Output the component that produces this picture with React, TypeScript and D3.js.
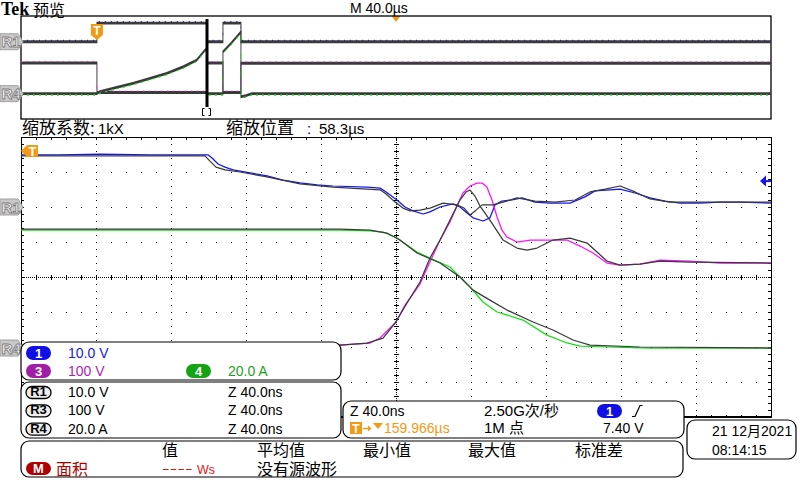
import React from "react";
import * as d3 from "d3";

type P = [number, number];

// ---------- zoomed window: time in ns (40 ns/div), values in V (ch1, ch3) and A (ch4)
const ch1Zoom: P[] = [
  [0, 14.9], [20.8, 14.9], [42.1, 15.1], [68.8, 14.9], [90.1, 14.9], [99.7, 14.9], [101.9, 14.0],
  [105.1, 12.3], [108.8, 11.4], [113.1, 10.6], [131.2, 8.9], [139.7, 7.7], [148.8, 6.9], [157.9, 6.3],
  [166.4, 6.0], [184.5, 5.7], [191.5, 5.4], [194.7, 4.3], [200.5, 2.0], [204.8, 0.0], [209.1, -1.1],
  [214.4, -2.0], [218.1, -1.4], [223.5, 0.0], [230.4, 0.9], [234.1, 0.0], [237.9, -1.7], [241.1, -3.1],
  [246.4, -4.0], [250.1, -3.1], [252.8, 0.6], [256.5, 1.7], [261.9, 2.0], [267.2, 2.6], [274.1, 1.4],
  [282.1, 1.1], [292.8, 1.1], [300.8, 2.9], [306.1, 4.6], [314.1, 4.9], [319.5, 5.1], [327.5, 4.0],
  [335.5, 2.6], [343.5, 1.7], [351.5, 1.1], [362.1, 1.1], [372.8, 1.4], [383.5, 1.4], [400, 1.1],
];
const ref1Zoom: P[] = [
  [0, 14.6], [42.1, 14.6], [90.1, 14.6], [98.1, 14.6], [100.8, 13.1], [104, 11.4], [108.8, 10.6],
  [116.8, 10.0], [131.2, 8.6], [148.8, 6.6], [166.4, 5.7], [184.5, 5.1], [191.5, 4.9], [194.7, 3.7],
  [199.5, 1.4], [203.7, -0.3], [207.5, -1.1], [212.8, -0.9], [218.1, -0.3], [225.1, 1.1], [232.5, 0.6],
  [236.3, -0.3], [239.5, -2.3], [242.7, -0.9], [245.9, 0.6], [251.7, 0.6], [257.1, 1.4], [264.5, 2.6],
  [274.1, 1.7], [284.8, 1.4], [295.5, 2.0], [303.5, 4.3], [311.5, 5.1], [319.5, 6.0], [327.5, 4.3],
  [335.5, 2.3], [346.1, 1.4], [362.1, 1.4], [400, 1.4],
];
const ch3Zoom: P[] = [
  [0, 8.6], [170.1, 8.6], [186.1, 14.3], [191.5, 28.6], [196.8, 57.1], [200, 74.3], [204.8, 122.9],
  [212.8, 182.9], [218.1, 245.7], [223.5, 308.6], [228.8, 360], [232.5, 405.7], [235.7, 442.9],
  [239.5, 462.9], [243.2, 471.4], [245.9, 471.4], [248.5, 460], [251.2, 422.9], [253.9, 374.3],
  [256.5, 337.1], [259.2, 317.1], [264.5, 302.9], [271.5, 308.6], [280.5, 308.6], [291.2, 308.6],
  [298.1, 291.4], [305.1, 271.4], [308.8, 257.1], [312.5, 242.9], [319.5, 237.1], [330.1, 240],
  [340.8, 251.4], [356.8, 248.6], [372.8, 242.9], [400, 242.9],
];
const ref3Zoom: P[] = [
  [0, 8.6], [170.1, 8.6], [184.5, 14.3], [193.1, 28.6], [199.5, 71.4], [205.9, 128.6], [212.8, 188.6],
  [218.1, 257.1], [223.5, 308.6], [228.8, 365.7], [234.1, 422.9], [237.3, 445.7], [239.5, 451.4],
  [242.1, 434.3], [244.8, 405.7], [250.1, 365.7], [257.1, 308.6], [264.5, 285.7], [269.9, 280],
  [275.2, 285.7], [283.7, 308.6], [292.8, 314.3], [301.9, 300], [307.2, 274.3], [312.5, 248.6],
  [319.5, 237.1], [330.1, 240], [340.8, 248.6], [356.8, 245.7], [400, 242.9],
];
const ch4Zoom: P[] = [
  [0, 67.4], [42.1, 67.4], [95, 67.4], [148.8, 67.4], [170.1, 67.4], [186.1, 66.9], [193.1, 66.3],
  [200.5, 62.9], [211.2, 54.9], [218.1, 51.4], [228.8, 46.3], [239.5, 34.9], [246.4, 26.3],
  [253.9, 20.6], [267.7, 16.0], [280.5, 7.4], [291.2, 2.9], [298.1, 1.1], [312.5, 0.6], [335.5, 0], [400, 0],
];
const ref4Zoom: P[] = [
  [0, 68], [170.1, 68], [186.1, 67.4], [195.2, 65.7], [202.1, 61.7], [211.2, 54.3], [223.5, 48.6],
  [234.1, 40.6], [241.1, 33.1], [250.1, 27.4], [259.2, 21.7], [273.1, 14.9], [283.7, 10.3],
  [294.4, 4.6], [303.5, 1.7], [330.1, 0.6], [400, 0],
];

// ---------- full record overview: time in µs (40 µs/div)
const ch1Overview: P[] = [
  [0, 0], [40.5, 0], [40.5, 14.5], [99.2, 14.5], [99.2, 0], [107.7, 0], [107.7, 14.5], [117.3, 14.5], [117.3, 0], [400, 0],
];
const ch3Overview: P[] = [
  [0, 238], [40.5, 238], [40.5, 8.6], [99.2, 8.6], [99.2, 238], [107.7, 238], [107.7, 8.6], [117.3, 8.6], [117.3, 236], [400, 236],
];
const ch4Overview: P[] = [
  [0, 0], [40.5, 0], [42.1, 3], [51, 9.8], [59.7, 16], [68.8, 23.8], [77.7, 31.5], [86.6, 41.8], [93.7, 52.2],
  [98.1, 67.7], [99.2, 69], [99.2, 0], [107.7, 0], [107.7, 65], [112, 78], [117.3, 96], [117.3, -4.8],
  [120, -3], [123, 0], [400, 0],
];

// channel order: ch1, ch3, ch4
const unitsPerDiv = [10, 100, 20];
const zeroDiv = [2.0, -2.03, -2.03];
const chColors = ["#1414f0", "#ff10ff", "#10e010"];

const chBadge = ["1", "3", "4"];
const chSetting = ["10.0 V", "100 V", "20.0 A"];
const refBadge = ["R1", "R3", "R4"];
const refSetting = ["10.0 V", "100 V", "20.0 A"];
const refZoomText = ["Z 40.0ns", "Z 40.0ns", "Z 40.0ns"];
const measHeaders = ["值", "平均值", "最小值", "最大值", "标准差"];

const LAT = "'Liberation Sans', Arial, 'Noto Sans CJK SC', sans-serif";
const CJK = "'Noto Sans CJK SC', 'Liberation Sans', sans-serif";
const ORANGE = "#f39a14";
const REFGRAY = "#3a3a3a";

const Pill = ({ x, y, w, h, fill, label, stroke }: any) => (
  <g>
    <rect x={x} y={y} width={w} height={h} rx={h / 2} fill={fill} stroke={stroke || "none"} strokeWidth={1.3} />
    <text x={x + w / 2} y={y + h - 2.5} textAnchor="middle" fontFamily={LAT} fontWeight="bold" fontSize={13}
      fill={stroke ? "#000" : "#fff"}>{label}</text>
  </g>
);

const Tag = ({ y, label }: { y: number; label: string }) => (
  <g>
    <path d={`M0,${y - 8}H18L23,${y}L18,${y + 8}H0Z`} fill="#c8c8c8" stroke="#a0a0a0" />
    <text x={1.5} y={y + 5.5} fontFamily={LAT} fontWeight="bold" fontSize={15} fill="#f6f6f6"
      stroke="#7c7c7c" strokeWidth={0.8}>{label}</text>
  </g>
);

export default function App() {
  const L = 21, R = 771, T = 137, B = 417;
  const xMain = d3.scaleLinear().domain([0, 400]).range([L, R]);
  const yMain = d3.scaleLinear().domain([-4, 4]).range([B, T]);
  const xOv = d3.scaleLinear().domain([0, 400]).range([L, R]);
  const yOv = d3.scaleLinear().domain([-4, 4]).range([119, 16]);
  const OVK = 3; // overview: thick horizontal strokes, thin vertical edges

  const mainLine = (pts: P[], ci: number) =>
    d3.line<P>().x((d) => xMain(d[0])).y((d) => yMain(d[1] / unitsPerDiv[ci] + zeroDiv[ci]))(pts) || "";
  const ovLine = (pts: P[], ci: number) =>
    d3.line<P>().x((d) => xOv(d[0])).y((d) => yOv(d[1] / unitsPerDiv[ci] + zeroDiv[ci]) / OVK)(pts) || "";

  // graticule
  let dots = "";
  for (let i = 1; i < 10; i++) {
    if (i === 5) continue;
    const x = Math.round(xMain(i * 40));
    for (let j = 1; j < 40; j++) {
      const y = Math.round(yMain(-4 + j * 0.2));
      dots += `M${x},${y}h1v1h-1z`;
    }
  }
  for (let k = -3; k <= 3; k++) {
    if (k === 0) continue;
    const y = Math.round(yMain(k));
    for (let i = 1; i < 50; i++) {
      const x = Math.round(xMain(i * 8));
      dots += `M${x},${y}h1v1h-1z`;
    }
  }
  const x0 = Math.round(xMain(200)), y0 = Math.round(yMain(0));
  let center = "";
  for (let x = L + 1; x < R; x += 2) center += `M${x},${y0}h1v1h-1z`;
  for (let y = T + 1; y < B; y += 2) center += `M${x0},${y}h1v1h-1z`;
  for (let i = 1; i < 50; i++) {
    const x = Math.round(xMain(i * 8));
    center += `M${x},${y0 - 2}h1v5h-1z`;
    center += `M${x},${T}h1v3h-1z`;
    center += `M${x},${B - 2}h1v3h-1z`;
  }
  for (let j = 1; j < 40; j++) {
    const y = Math.round(yMain(-4 + j * 0.2));
    center += `M${x0 - 2},${y}h5v1h-5z`;
    center += `M${L},${y}h3v1h-3z`;
    center += `M${R - 3},${y}h3v1h-3z`;
  }

  const trigX = xOv(40.5);
  const zoomX = xOv(99.2);
  const r1Main = yMain(zeroDiv[0]);
  const r4Main = yMain(zeroDiv[2]);
  const r1Ov = yOv(zeroDiv[0]);
  const r4Ov = yOv(zeroDiv[2]);
  const trigLevelY = yMain(7.4 / unitsPerDiv[0] + zeroDiv[0]);

  return (
    <div style={{ position: "fixed", left: 0, top: 0 }}>
      <svg width={800} height={480} viewBox="0 0 800 480" style={{ display: "block", background: "#fff" }}>
        <rect x={0} y={0} width={800} height={480} fill="#fff" />

        {/* header */}
        <text x={1} y={15} fontFamily="'Liberation Serif', serif" fontWeight="bold" fontSize={18} fill="#000">Tek</text>
        <text x={33} y={15.5} fontFamily={CJK} fontSize={16} fill="#000">预览</text>
        <text x={350} y={12.5} fontFamily={LAT} fontSize={14} fill="#000">M 40.0µs</text>
        <path d={`M${xOv(200) - 4.5},16L${xOv(200) + 4.5},16L${xOv(200)},22Z`} fill={ORANGE} />

        {/* overview */}
        <rect x={L} y={16} width={R - L} height={103} fill="none" stroke="#000" strokeWidth={1.3} />
        <g transform={`scale(1,${OVK})`} fill="none" strokeWidth={0.95}>
          <path d={ovLine(ch1Overview, 0)} stroke={REFGRAY} />
          <path d={ovLine(ch3Overview, 1)} stroke={REFGRAY} />
          <path d={ovLine(ch4Overview, 2)} stroke={REFGRAY} />
        </g>
        <g fill="none" strokeWidth={0.45} strokeDasharray="1 5">
          <g transform={`translate(0,-1.4) scale(1,${OVK})`}>
            <path d={ovLine(ch1Overview, 0)} stroke={chColors[0]} />
            <path d={ovLine(ch3Overview, 1)} stroke={chColors[1]} />
          </g>
          <g transform={`translate(0,1.4) scale(1,${OVK})`}>
            <path d={ovLine(ch4Overview, 2)} stroke={chColors[2]} strokeDasharray="2 4" />
          </g>
        </g>
        <rect x={zoomX - 1.5} y={19} width={3} height={88} fill="#000" />
        <path d={`M${zoomX - 2.5},108.5h-2v7h2M${zoomX + 1.5},108.5h2v7h-2`} fill="none" stroke="#000" strokeWidth={1} />
        <path d={`M${trigX - 6},24H${trigX + 6}V35L${trigX},40L${trigX - 6},35Z`} fill={ORANGE} />
        <text x={trigX} y={35} textAnchor="middle" fontFamily={LAT} fontWeight="bold" fontSize={12} fill="#fff">T</text>
        <Tag y={r1Ov} label="R1" />
        <Tag y={r4Ov} label="R4" />

        <text x={22} y={134} fontFamily={CJK} fontSize={17} fill="#000">缩放系数:</text>
        <text x={98} y={134} fontFamily={LAT} fontSize={15} fill="#000">1kX</text>
        <text x={226} y={134} fontFamily={CJK} fontSize={17} fill="#000">缩放位置</text>
        <text x={307} y={134} fontFamily={LAT} fontSize={15} fill="#000">:</text>
        <text x={319} y={134} fontFamily={LAT} fontSize={15} fill="#000">58.3µs</text>

        {/* main graticule */}
        <g shapeRendering="crispEdges">
          <path d={dots} fill="#000" />
          <path d={center} fill="#000" />
          <rect x={L} y={T} width={R - L} height={B - T} fill="none" stroke="#000" strokeWidth={1} />
          <line x1={L} x2={R + 1} y1={B} y2={B} stroke="#000" strokeWidth={2.5} />
        </g>
        <defs>
          <clipPath id="plotClip">
            <rect x={L} y={T} width={R - L} height={B - T} />
          </clipPath>
        </defs>
        <g clipPath="url(#plotClip)" fill="none" strokeWidth={1.25} strokeLinejoin="round">
          <path d={mainLine(ch1Zoom, 0)} stroke={chColors[0]} />
          <path d={mainLine(ch3Zoom, 1)} stroke={chColors[1]} />
          <path d={mainLine(ch4Zoom, 2)} stroke={chColors[2]} />
          <path d={mainLine(ref1Zoom, 0)} stroke={REFGRAY} />
          <path d={mainLine(ref3Zoom, 1)} stroke={REFGRAY} />
          <path d={mainLine(ref4Zoom, 2)} stroke={REFGRAY} />
        </g>
        <path d={`M${L},151L${L + 6},145H${L + 17}V157H${L + 6}Z`} fill={ORANGE} />
        <text x={L + 11.5} y={156} textAnchor="middle" fontFamily={LAT} fontWeight="bold" fontSize={13} fill="#fff">T</text>
        <path d={`M${R - 11},${trigLevelY}L${R - 5},${trigLevelY - 5.5}V${trigLevelY + 5.5}Z`} fill={chColors[0]} />
        <line x1={R - 6} x2={R} y1={trigLevelY} y2={trigLevelY} stroke={chColors[0]} strokeWidth={2} />
        <Tag y={r1Main} label="R1" />
        <Tag y={r4Main} label="R4" />

        {/* channel box */}
        <rect x={21} y={342} width={320} height={38} rx={8} fill="#fff" stroke="#000" strokeWidth={1.2} />
        <Pill x={26} y={346} w={25} h={14} fill="#1010e6" label={chBadge[0]} />
        <text x={68} y={358} fontFamily={LAT} fontSize={14} fill="#1a1ae0">{chSetting[0]}</text>
        <Pill x={26} y={364} w={25} h={14} fill="#a11fa6" label={chBadge[1]} />
        <text x={68} y={376} fontFamily={LAT} fontSize={14} fill="#b01cb0">{chSetting[1]}</text>
        <Pill x={186} y={364} w={25} h={14} fill="#12a412" label={chBadge[2]} />
        <text x={228} y={376} fontFamily={LAT} fontSize={14} fill="#1ea01e">{chSetting[2]}</text>

        {/* reference box */}
        <rect x={21} y={382} width={320} height={56} rx={8} fill="#fff" stroke="#000" strokeWidth={1.2} />
        {refBadge.map((b, i) => (
          <g key={b}>
            <Pill x={26} y={386.5 + i * 18.3} w={25} h={12} fill="#ececec" stroke="#000" label={b} />
            <text x={68} y={397 + i * 18.3} fontFamily={LAT} fontSize={14} fill="#000">{refSetting[i]}</text>
            <text x={228} y={397 + i * 18.3} fontFamily={LAT} fontSize={14} fill="#000">{refZoomText[i]}</text>
          </g>
        ))}

        {/* timebase / trigger box */}
        <rect x={343} y={401} width={341} height={37} rx={8} fill="#fff" stroke="#000" strokeWidth={1.2} />
        <text x={350} y={416} fontFamily={LAT} fontSize={14} fill="#000">Z 40.0ns</text>
        <text x={484} y={416} fontFamily={LAT} fontSize={15} fill="#000">2.50G次/秒</text>
        <Pill x={597} y={404} w={25} h={14} fill="#1010e6" label="1" />
        <path d="M632,416.5h3l5,-11h2.5" fill="none" stroke="#000" strokeWidth={1.2} />
        <rect x={350} y={422} width={12} height={12} fill={ORANGE} />
        <text x={356} y={432.5} textAnchor="middle" fontFamily={LAT} fontWeight="bold" fontSize={12} fill="#fff">T</text>
        <path d="M363,428.5h7" stroke={ORANGE} strokeWidth={1.5} />
        <path d="M368,425.5l3.5,3l-3.5,3Z" fill={ORANGE} />
        <path d="M373,423h10l-5,6Z" fill={ORANGE} />
        <text x={384} y={433} fontFamily={LAT} fontSize={14} fill={ORANGE}>159.966µs</text>
        <text x={484} y={433} fontFamily={LAT} fontSize={15} fill="#000">1M 点</text>
        <text x={603} y={433} fontFamily={LAT} fontSize={14} fill="#000">7.40 V</text>

        {/* measurement box */}
        <rect x={21} y={441} width={662} height={36} rx={8} fill="#fff" stroke="#000" strokeWidth={1.2} />
        {measHeaders.map((h, i) => (
          <text key={h} x={[162, 257, 363, 468, 575][i]} y={456} fontFamily={CJK} fontSize={16} fill="#000">{h}</text>
        ))}
        <Pill x={26} y={462} w={25} h={13} fill="#b00000" label="M" />
        <text x={56} y={475} fontFamily={CJK} fontSize={16} fill="#b00000">面积</text>
        <line x1={163} x2={192} y1={469.5} y2={469.5} stroke="#e01818" strokeWidth={1.2} strokeDasharray="5.5 2.2" />
        <text x={197} y={474} fontFamily={LAT} fontSize={12.5} fill="#e01818">Ws</text>
        <text x={257} y={475} fontFamily={CJK} fontSize={16} fill="#000">没有源波形</text>

        {/* date box */}
        <rect x={687} y={420} width={109} height={39} rx={8} fill="#fff" stroke="#000" strokeWidth={1.2} />
        <text x={712} y={436} fontFamily={LAT} fontSize={14} fill="#000">21 12<tspan fontFamily={CJK}>月</tspan>2021</text>
        <text x={712} y={455} fontFamily={LAT} fontSize={14} fill="#000">08:14:15</text>
      </svg>
    </div>
  );
}
